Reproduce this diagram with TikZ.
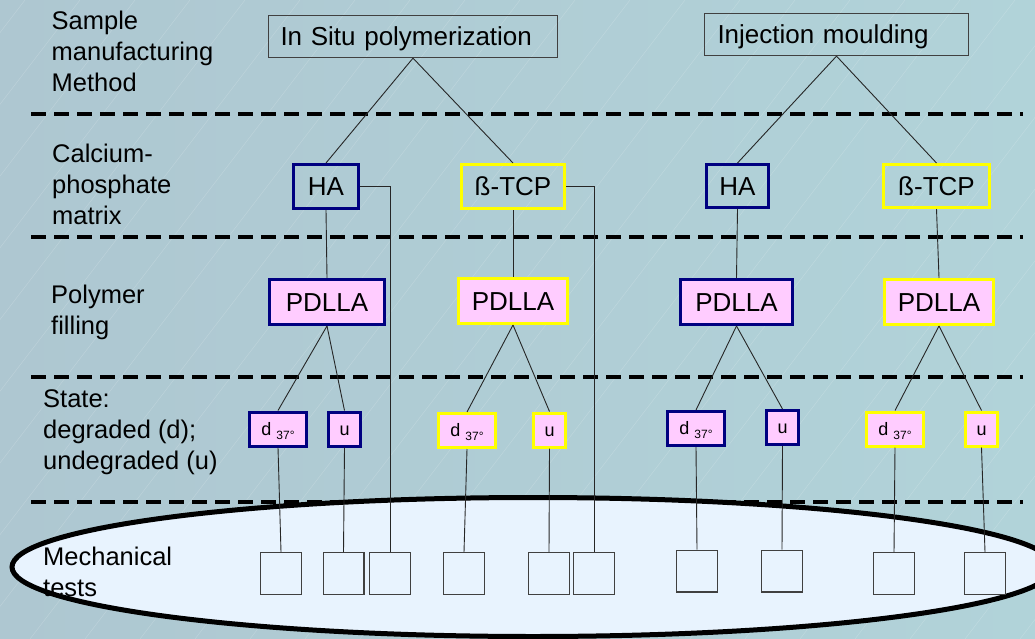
\documentclass[tikz,border=0pt]{standalone}
\usepackage{fontspec}
\setmainfont{Liberation Sans}

\definecolor{navyline}{RGB}{0,0,128}
\definecolor{yellowline}{RGB}{255,255,0}
\definecolor{pinkfill}{RGB}{255,204,255}
\definecolor{bgleft}{RGB}{174,199,209}
\definecolor{bgright}{RGB}{177,211,217}
\definecolor{ovalfill}{RGB}{232,243,254}

\tikzset{
  rowlabel/.style={anchor=north west, align=left, inner sep=0pt, font=\fontsize{25.5}{31}\selectfont},
  sepline/.style={line width=4.5pt, dash pattern=on 15pt off 8pt},
  textbox/.style={rectangle, inner sep=0pt, text height=19pt, text depth=0pt, font=\fontsize{26}{31}\selectfont},
  methodbox/.style={textbox, draw=black!75, line width=1.3pt, minimum height=42pt, inner xsep=12pt, align=left},
  hab/.style={draw=navyline, line width=3pt},
  tcpb/.style={draw=yellowline, line width=3pt},
  matrixbox/.style={textbox, minimum height=44pt},
  fillbox/.style={textbox, fill=pinkfill, minimum height=45pt},
  statebox/.style={rectangle, inner sep=0pt, fill=pinkfill, minimum height=34pt, text height=12.5pt, text depth=0pt, font=\fontsize{18}{20}\selectfont},
  testbox/.style={rectangle, draw=black!75, line width=1.3pt, minimum width=40.7pt, minimum height=41.7pt},
  link/.style={line width=0.9pt, black!85},
}
\newcommand{\dsub}{d \raisebox{-4pt}{\fontsize{12}{12}\selectfont 37°}}

\begin{document}
\begin{tikzpicture}[x=1pt, y=-1pt]
    % Background
    \useasboundingbox (0,0) rectangle (1035,639);
    \clip (0,0) rectangle (1035,639);
    \shade[left color=bgleft, right color=bgright] (0,0) rectangle (1035,639);
    \foreach \s in {-520,-465,...,1035}
      \draw[white, opacity=0.18, line width=0.5pt] (\s,639) -- (\s+490,0);

    % Level separators
    \draw[sepline] (31,114) -- (1023,114);
    \draw[sepline] (31,237) -- (1023,237);
    \draw[sepline] (31,377) -- (1023,377);
    \draw[sepline] (31,502) -- (1023,502);

    % Oval round the tests
    \draw[fill=ovalfill, line width=5pt] (533,567) ellipse [x radius=521pt, y radius=69.5pt];

    % Row labels
    \node[rowlabel] (lmethod) at (51.5,10.4) {Sample\\manufacturing\\Method};
    \node[rowlabel] (lmatrix) at (52,143.4) {Calcium-\\phosphate\\matrix};
    \node[rowlabel] (lpolymer) at (51,284.4) {Polymer\\filling};
    \node[rowlabel] (lstate) at (43,389.4) {State:\\degraded (d);\\undegraded (u)};
    \node[rowlabel] (ltests) at (43,546.4) {Mechanical\\tests};

    % Manufacturing methods
    \node[methodbox, text width=265pt] (insitu) at (413,36.5) {In Situ polymerization};
    \node[methodbox, text width=238pt, inner xsep=13pt] (inject) at (836.5,34.5) {Injection moulding};

    % Calcium-phosphate matrix
    \node[matrixbox, hab, minimum width=65pt] (ha1) at (326,186.5) {HA};
    \node[matrixbox, tcpb, minimum width=103pt] (tcp1) at (513,186.5) {ß-TCP};
    \node[matrixbox, hab, minimum width=62pt, minimum height=43pt] (ha2) at (737.5,186) {HA};
    \node[matrixbox, tcpb, minimum width=106pt, minimum height=43pt] (tcp2) at (936.5,186) {ß-TCP};

    % Polymer filling
    \node[fillbox, hab, minimum width=115pt] (pd1) at (327,302) {PDLLA};
    \node[fillbox, tcpb, minimum width=109pt] (pd2) at (513,301) {PDLLA};
    \node[fillbox, hab, minimum width=112pt] (pd3) at (736.5,302) {PDLLA};
    \node[fillbox, tcpb, minimum width=109pt] (pd4) at (939,302) {PDLLA};

    % State
    \node[statebox, hab, minimum width=57pt] (d1) at (278,429) {\dsub};
    \node[statebox, hab, minimum width=32pt] (u1) at (344.5,429) {u};
    \node[statebox, tcpb, minimum width=57pt] (d2) at (467,430.5) {\dsub};
    \node[statebox, tcpb, minimum width=32pt] (u2) at (549.5,430) {u};
    \node[statebox, hab, minimum width=57pt] (d3) at (696,428.5) {\dsub};
    \node[statebox, hab, minimum width=32pt] (u3) at (782.5,427.5) {u};
    \node[statebox, tcpb, minimum width=57pt] (d4) at (895,429) {\dsub};
    \node[statebox, tcpb, minimum width=32pt] (u4) at (981.5,429) {u};

    % Mechanical tests
    \node[testbox] (t1) at (281,573.5) {};
    \node[testbox] (t2) at (343.5,573.5) {};
    \node[testbox] (t3) at (390,573.5) {};
    \node[testbox] (t4) at (464,573.5) {};
    \node[testbox] (t5) at (549,573.5) {};
    \node[testbox] (t6) at (594,573.5) {};
    \node[testbox] (t7) at (697,571) {};
    \node[testbox] (t8) at (782,571) {};
    \node[testbox] (t9) at (894,573.5) {};
    \node[testbox] (t10) at (985,573.5) {};

    % Links between levels
    \draw[link] (insitu.south) -- (ha1.north);
    \draw[link] (insitu.south) -- (tcp1.north);
    \draw[link] (inject.south) -- (ha2.north);
    \draw[link] (inject.south) -- (tcp2.north);

    \draw[link] (ha1.south) -- (pd1.north);
    \draw[link] (tcp1.south) -- (pd2.north);
    \draw[link] (ha2.south) -- (pd3.north);
    \draw[link] (tcp2.south) -- (pd4.north);

    \draw[link] (pd1.south) -- (d1.north);
    \draw[link] (pd1.south) -- (u1.north);
    \draw[link] (pd2.south) -- (d2.north);
    \draw[link] (pd2.south) -- (u2.north);
    \draw[link] (pd3.south) -- (d3.north);
    \draw[link] (pd3.south) -- (u3.north);
    \draw[link] (pd4.south) -- (d4.north);
    \draw[link] (pd4.south) -- (u4.north);

    \draw[link] (d1.south) -- (t1.north);
    \draw[link] (u1.south) -- (t2.north);
    \draw[link] (d2.south) -- (t4.north);
    \draw[link] (u2.south) -- (t5.north);
    \draw[link] (d3.south) -- (t7.north);
    \draw[link] (u3.south) -- (t8.north);
    \draw[link] (d4.south) -- (t9.north);
    \draw[link] (u4.south) -- (t10.north);

    % Untreated matrix straight to the tests
    \draw[link] (ha1.east) -| (t3.north);
    \draw[link] (tcp1.east) -| (t6.north);
\end{tikzpicture}
\end{document}
